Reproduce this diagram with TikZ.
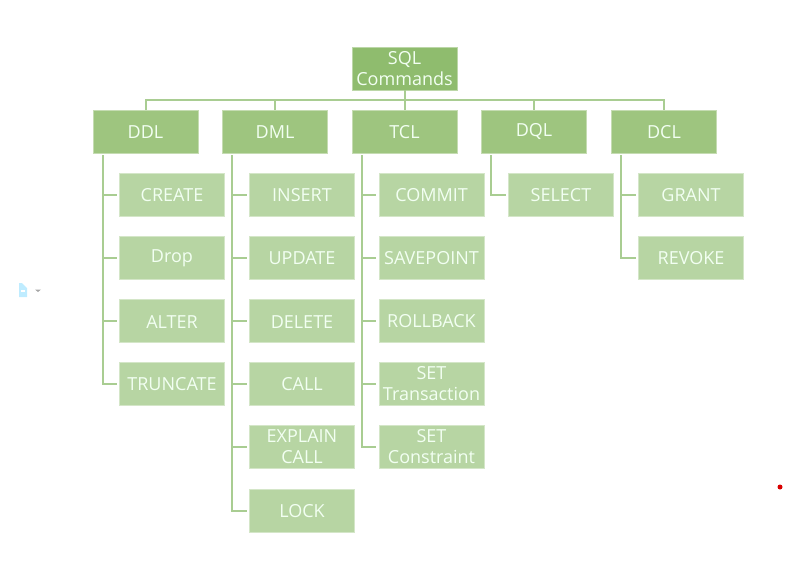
\documentclass[tikz,border=0pt]{standalone}
\usepackage{fontspec}
\setmainfont{Open Sans}
\definecolor{rootg}{HTML}{8FBC6E}
\definecolor{headg}{HTML}{9EC57F}
\definecolor{kidg}{HTML}{B7D5A3}
\definecolor{lineg}{HTML}{A9CD92}
\newcommand{\topprop}{\vrule height 14pt depth 0pt width 0pt\relax}
\newcommand{\tallprop}{\vrule height 21pt depth 0pt width 0pt\relax}
\tikzset{
  x=1pt,y=-1pt,
  rootbox/.style={fill=rootg,draw=white!40!rootg,line width=.4pt,minimum width=105pt,minimum height=43pt,inner sep=0pt,align=center,text=white!95!green,font=\fontsize{18}{21}\selectfont,execute at begin node=\topprop},
  headbox/.style={rootbox,fill=headg,draw=white!40!headg},
  kidbox/.style={rootbox,fill=kidg,draw=white!40!kidg},
  twoline/.style={execute at begin node=\tallprop},
  link/.style={draw=lineg,line width=2pt},
  branch/.style={link,shorten >=2.5pt,shorten <=2pt},
}
\begin{document}
\begin{tikzpicture}
\useasboundingbox (0,0) rectangle (812,587);
\node[rootbox,twoline] (sql) at (404.5,68.5) {SQL\\Commands};
\node[headbox] (ddl) at (145.5,131.5) {DDL};
\node[headbox] (dml) at (275,131.5) {DML};
\node[headbox] (tcl) at (404.5,131.5) {TCL};
\node[headbox] (dql) at (534,131.5) {DQL};
\node[headbox] (dcl) at (664,131.5) {DCL};
\node[kidbox] (create) at (172,195) {CREATE};
\node[kidbox] (drop) at (172,258) {Drop};
\node[kidbox] (alter) at (172,321) {ALTER};
\node[kidbox] (truncate) at (172,384) {TRUNCATE};
\node[kidbox] (insert) at (302,195) {INSERT};
\node[kidbox] (update) at (302,258) {UPDATE};
\node[kidbox] (delete) at (302,321) {DELETE};
\node[kidbox] (call) at (302,384) {CALL};
\node[kidbox,twoline] (explain) at (302,447) {EXPLAIN\\CALL};
\node[kidbox] (lock) at (302,510.5) {LOCK};
\node[kidbox] (commit) at (431.5,195) {COMMIT};
\node[kidbox] (savepoint) at (431.5,258) {SAVEPOINT};
\node[kidbox] (rollback) at (431.5,321) {ROLLBACK};
\node[kidbox,twoline] (settrans) at (431.5,384) {SET\\Transaction};
\node[kidbox,twoline] (setcons) at (431.5,447) {SET\\Constraint};
\node[kidbox] (select) at (561,195) {SELECT};
\node[kidbox] (grant) at (691,195) {GRANT};
\node[kidbox] (revoke) at (691,258) {REVOKE};
% top bus
\foreach \h in {ddl,dml,tcl,dql,dcl}
  \draw[link] (sql.south) |- ++(0,10) -| (\h.north);
% branches
\foreach \k in {create,drop,alter,truncate}
  \draw[branch] ([xshift=10pt]ddl.south west) |- (\k.west);
\foreach \k in {insert,update,delete,call,explain,lock}
  \draw[branch] ([xshift=10pt]dml.south west) |- (\k.west);
\foreach \k in {commit,savepoint,rollback,settrans,setcons}
  \draw[branch] ([xshift=10pt]tcl.south west) |- (\k.west);
\draw[branch] ([xshift=10pt]dql.south west) |- (select.west);
\foreach \k in {grant,revoke}
  \draw[branch] ([xshift=10pt]dcl.south west) |- (\k.west);
% stray marks
\fill[blue!30!cyan!25!white] (19,283) -- (22,283) -- (27,288) -- (27,297) -- (19,297) -- cycle;
\fill[white] (21,290) rectangle (25,292);
\fill[gray!70] (35,289.5) -- (41,289.5) -- (38,292) -- cycle;
\fill[red!85!black] (780,487) circle (2.5);
\end{tikzpicture}
\end{document}
